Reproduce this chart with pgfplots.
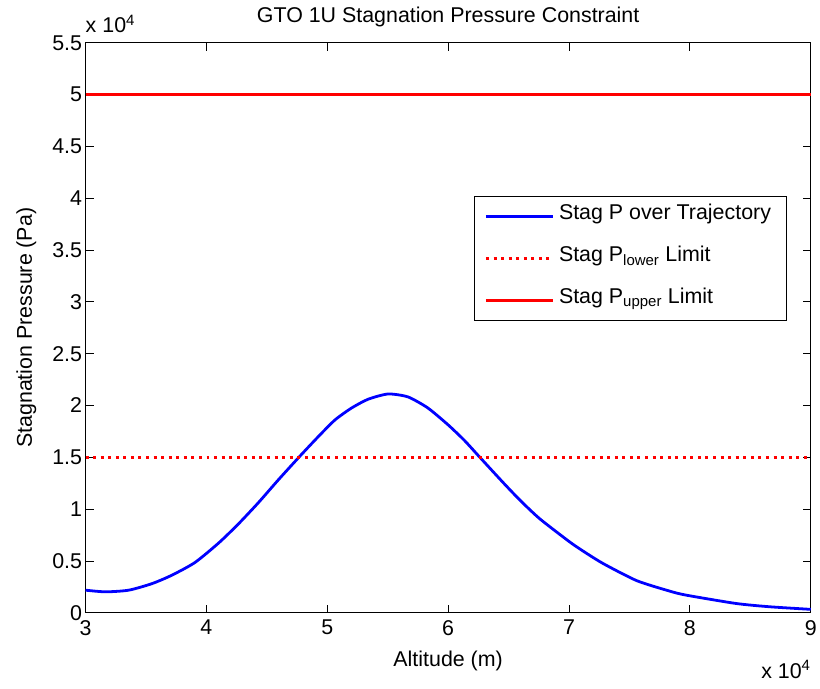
\documentclass[border=0pt]{standalone}
\usepackage{pgfplots}
\pgfplotsset{compat=1.18}
\usepackage{fontspec}
\setmainfont{Liberation Sans}
\pgfplotstableread{
alt press
30000 2180
31650 2020
33570 2180
35490 2810
37130 3620
39050 4850
41030 6750
42670 8600
44320 10650
45970 12850
47750 15130
49260 17000
50630 18600
52000 19750
53370 20600
55020 21110
56670 20830
58310 19770
59960 18170
61330 16650
62570 15070
64600 12500
66000 10800
67600 9050
70100 6800
71500 5700
72900 4700
75600 3100
78300 2100
79700 1700
83800 900
86600 580
90000 330
}\stagdata
\begin{document}
\begin{tikzpicture}[font=\fontsize{21.5}{25}\selectfont]
\begin{axis}[
  name=ax,
  scale only axis,
  width=729pt, height=573pt,
  xmin=30000, xmax=90000, ymin=0, ymax=55000,
  xtick={30000,40000,50000,60000,70000,80000,90000},
  xticklabels={3,4,5,6,7,8,9},
  ytick={0,5000,10000,15000,20000,25000,30000,35000,40000,45000,50000,55000},
  yticklabels={0,0.5,1,1.5,2,2.5,3,3.5,4,4.5,5,5.5},
  scaled ticks=false,
  tick align=inside,
  major tick length=8pt,
  axis line style={black, line width=0.8pt},
  tick style={black, line width=0.8pt},
  x tick label style={yshift=-4pt},
  clip=false,
  title={GTO 1U Stagnation Pressure Constraint},
  title style={at={(axis description cs:0.5,1)}, anchor=base, yshift=14pt, inner sep=0pt},
  xlabel={Altitude (m)},
  xlabel style={at={(axis description cs:0.5,0)}, anchor=base, yshift=-54pt, inner sep=0pt},
  ylabel={Stagnation Pressure (Pa)},
  ylabel style={at={([xshift=-54pt]axis description cs:0,0.5)}, rotate=0, anchor=base, inner sep=0pt},
  legend cell align=left,
  legend image code/.code={\draw[#1] (0pt,0pt) -- (67pt,0pt);},
  legend style={at={(rel axis cs:0.536,0.731)}, anchor=north west,
    draw=black, line width=0.8pt, fill=white,
    inner xsep=10pt, inner ysep=6pt, row sep=13.5pt,
    nodes={inner xsep=5pt, inner ysep=2pt, text depth=9pt}},
]
\addplot[blue, line width=2.8pt, smooth, tension=0.4] table[x=alt, y=press] {\stagdata};
\addlegendentry{Stag P over Trajectory}
\addplot[red, line width=2.8pt, dash pattern=on 3pt off 4.6pt] coordinates {(30000,15000) (90000,15000)};
\addlegendentry{Stag P\textsubscript{lower} Limit}
\addplot[red, line width=2.8pt] coordinates {(30000,50000) (90000,50000)};
\addlegendentry{Stag P\textsubscript{upper} Limit}
\node[anchor=base west, inner sep=0pt, yshift=10pt] at (rel axis cs:0,1) {x 10\textsuperscript{4}};
\node[anchor=base east, inner sep=0pt, yshift=-66pt] at (rel axis cs:1,0) {x 10\textsuperscript{4}};
\end{axis}
\path ([shift={(-86pt,-76pt)}]ax.south west) rectangle ([shift={(5pt,43pt)}]ax.north east);
\end{tikzpicture}
\end{document}
